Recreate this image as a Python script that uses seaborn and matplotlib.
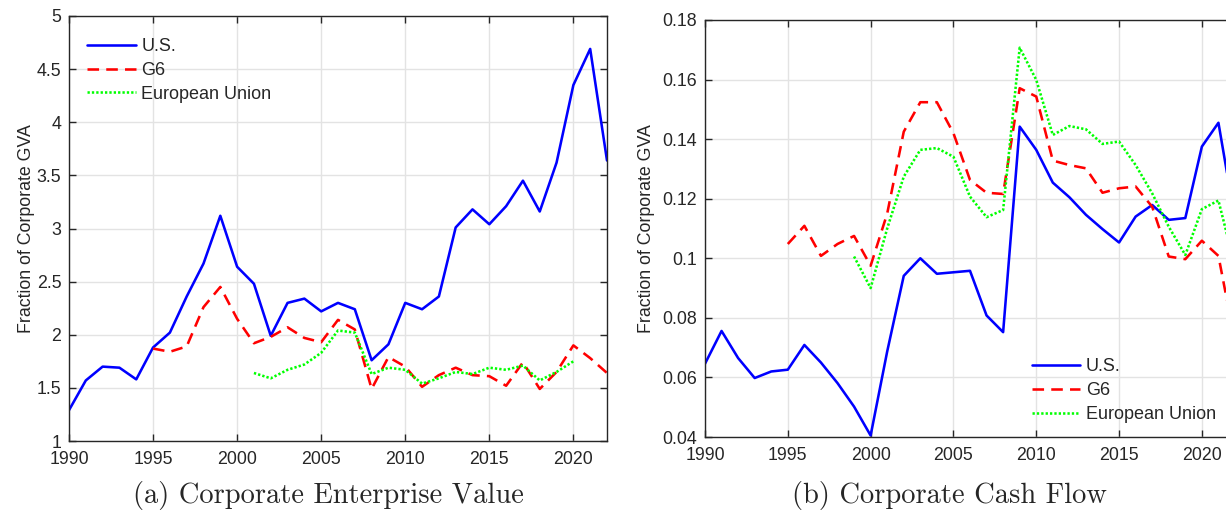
import numpy as np
import pandas as pd
import matplotlib
matplotlib.use("Agg")
import matplotlib.pyplot as plt
from matplotlib.ticker import FuncFormatter
import seaborn as sns

years = list(range(1990, 2023))
nan = np.nan

# Panel (a): Corporate Enterprise Value / GVA
ev_us = [1.29, 1.57, 1.70, 1.69, 1.58, 1.88, 2.02, 2.36, 2.67, 3.12,
         2.64, 2.48, 1.99, 2.30, 2.34, 2.22, 2.30, 2.24, 1.76, 1.91,
         2.30, 2.24, 2.36, 3.01, 3.18, 3.04, 3.21, 3.45, 3.16, 3.62,
         4.35, 4.69, 3.64]
ev_g6 = [nan] * 5 + [1.87, 1.84, 1.89, 2.26, 2.45,
                     2.15, 1.92, 1.98, 2.07, 1.97, 1.93, 2.14, 2.05, 1.49, 1.79,
                     1.70, 1.51, 1.62, 1.69, 1.62, 1.61, 1.52, 1.74, 1.49, 1.65,
                     1.90, 1.78, 1.64]
ev_eu = [nan] * 11 + [1.64, 1.59, 1.67, 1.72, 1.83, 2.04, 2.02, 1.63, 1.69,
                      1.67, 1.54, 1.59, 1.65, 1.63, 1.69, 1.67, 1.71, 1.57, 1.65,
                      1.75, nan, nan]

# Panel (b): Corporate Cash Flow / GVA
cf_us = [0.0646, 0.0756, 0.0665, 0.0598, 0.0620, 0.0626, 0.0709, 0.0650, 0.0581, 0.0502,
         0.0405, 0.0687, 0.0941, 0.1000, 0.0948, 0.0953, 0.0958, 0.0808, 0.0752, 0.1442,
         0.1364, 0.1254, 0.1205, 0.1146, 0.1098, 0.1053, 0.1140, 0.1179, 0.1129, 0.1135,
         0.1375, 0.1455, 0.1130]
cf_g6 = [nan] * 5 + [0.1048, 0.1109, 0.1008, 0.1048, 0.1075,
                     0.0975, 0.1150, 0.1425, 0.1524, 0.1524, 0.1420, 0.1263, 0.1220, 0.1216, 0.1571,
                     0.1543, 0.1328, 0.1313, 0.1302, 0.1220, 0.1235, 0.1241, 0.1173, 0.1006, 0.0997,
                     0.1059, 0.1008, 0.0720]
cf_eu = [nan] * 9 + [0.1006,
                     0.0900, 0.1100, 0.1274, 0.1364, 0.1370, 0.1341, 0.1207, 0.1138, 0.1162, 0.1707,
                     0.1599, 0.1414, 0.1444, 0.1433, 0.1384, 0.1392, 0.1313, 0.1218, 0.1106, 0.1011,
                     0.1165, 0.1194, 0.0973]

series_names = ["U.S.", "G6", "European Union"]
ylabel = "Fraction of Corporate GVA"
caption_a = "(a) Corporate Enterprise Value"
caption_b = "(b) Corporate Cash Flow"

sns.set_style("white")
plt.rcParams['font.family'] = ['Liberation Sans', 'DejaVu Sans']

fig = plt.figure(figsize=(12.26, 5.2), dpi=100)
axA = fig.add_axes([69/1226, 1-441/520, 538/1226, 425/520])
axB = fig.add_axes([705/1226, 1-437/520, 530/1226, 417/520])

styles = [dict(color=(0, 0, 1), linestyle="-"),
          dict(color=(1, 0, 0), linestyle=(0, (4.5, 2.8))),
          dict(color=(0, 1, 0), linestyle=(0, (0.9, 0.8)))]

def draw(ax, data_list):
    for name, vals, st in zip(series_names, data_list, styles):
        df = pd.DataFrame({"year": years, "value": vals}).dropna()
        sns.lineplot(data=df, x="year", y="value", ax=ax, label=name,
                     color=st["color"], linestyle=st["linestyle"],
                     linewidth=1.85, errorbar=None)

draw(axA, [ev_us, ev_g6, ev_eu])
draw(axB, [cf_us, cf_g6, cf_eu])

tick_color = "#262626"
for ax in (axA, axB):
    ax.set_xlim(1990, 2022)
    ax.set_xticks(range(1990, 2021, 5))
    ax.grid(True, color="#e3e3e3", linewidth=1.0)
    ax.set_axisbelow(True)
    for s in ax.spines.values():
        s.set_color(tick_color)
        s.set_linewidth(1.0)
        s.set_visible(True)
    ax.tick_params(direction="in", length=5, width=1.0, colors=tick_color,
                   labelsize=12.8, top=True, right=True, bottom=True, left=True,
                   labelcolor=tick_color)
    ax.tick_params(axis="x", pad=7.5)
    ax.tick_params(axis="y", pad=5.5)
    ax.set_xlabel("")
    ax.set_ylabel(ylabel, fontsize=12.8, color=tick_color)
    ax.yaxis.set_major_formatter(FuncFormatter(lambda v, p: f"{v:g}"))

axA.set_ylim(1, 5)
axA.set_yticks(np.arange(1, 5.01, 0.5))
axB.set_ylim(0.04, 0.18)
axB.set_yticks(np.arange(0.04, 0.1801, 0.02))
axA.yaxis.set_label_coords(-0.063, 0.5)
axB.yaxis.set_label_coords(-0.094, 0.5)

leg_kw = dict(frameon=False, fontsize=13, handlelength=2.7, handletextpad=0.3,
              labelspacing=0.38)
axA.legend(loc="upper left", bbox_to_anchor=(0.0, 1.0 - 4/425),
           borderaxespad=0.6, **leg_kw)
axB.legend(loc="lower right", bbox_to_anchor=(1.0 - 1/530, -4/417),
           borderaxespad=0.6, **leg_kw)

fig.text(328/1226, 1-496/520, caption_a, ha="center", va="center",
         fontsize=20.5, family="cmr10")
fig.text(949/1226, 1-496/520, caption_b, ha="center", va="center",
         fontsize=20.5, family="cmr10")

fig.savefig("out.png", dpi=100)
